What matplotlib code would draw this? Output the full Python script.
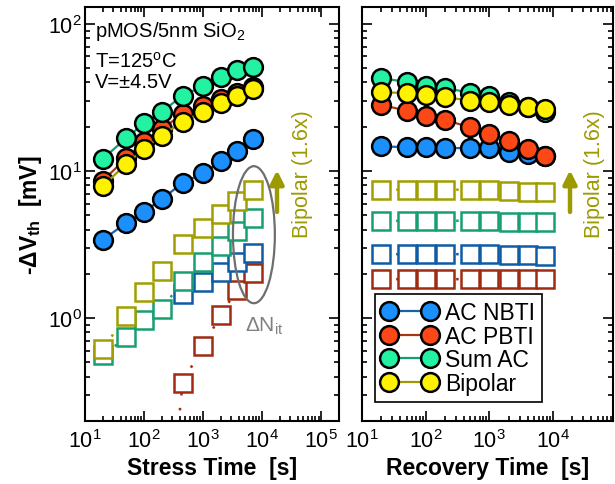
"""
pMOS / 5nm SiO2 : AC NBTI, AC PBTI, sum and bipolar stress + recovery.
"""

import numpy as np
import matplotlib
matplotlib.use("Agg")
import matplotlib.pyplot as plt
from matplotlib.lines import Line2D
from matplotlib.patches import Ellipse
from matplotlib.ticker import LogLocator, NullFormatter

plt.rcParams['font.family'] = ['Liberation Sans', 'DejaVu Sans']
plt.rcParams['mathtext.fontset'] = 'custom'
plt.rcParams['mathtext.rm'] = 'Liberation Sans'
plt.rcParams['mathtext.it'] = 'Liberation Sans:italic'
plt.rcParams['mathtext.bf'] = 'Liberation Sans:bold'
plt.rcParams['axes.linewidth'] = 1.5

# ---- data ----
stress_t = [20, 50, 100, 200, 450, 1000, 2000, 3700, 7000]
recov_t = [20, 50, 100, 200, 500, 1000, 2000, 4000, 7500]

# total dVth during stress [mV]
stress_nbti = [3.41, 4.43, 5.28, 6.45, 8.28, 9.68, 11.6, 13.7, 16.5]
stress_pbti = [8.6, 12.2, 15.8, 19.3, 24.4, 27.5, 30.9, 34.0, 37.2]
stress_sum = [12.1, 16.7, 21.1, 25.3, 32.5, 37.7, 43.4, 48.4, 50.7]
stress_bip = [7.87, 11.2, 14.1, 17.4, 21.6, 25.3, 29.0, 32.5, 36.1]

# interface trap part (dNit) during stress [mV]
nit_t_nbti = [450, 1000, 2000, 3700, 7000]
nit_nbti = [1.46, 1.77, 2.07, 2.39, 2.77]
nit_t_pbti = [200, 450, 1000, 2000, 3700, 7000]
nit_pbti = [0.014, 0.365, 0.648, 1.05, 1.56, 2.02]
nit_sum = [0.56, 0.74, 0.97, 1.15, 1.79, 2.42, 3.10, 3.93, 4.77]
nit_bip = [0.62, 1.03, 1.51, 2.10, 3.18, 4.07, 5.10, 6.28, 7.46]

# recovery [mV]
rec_nbti = [14.7, 14.5, 14.5, 14.3, 14.3, 14.3, 13.4, 13.1, 12.6]
rec_pbti = [28.1, 25.7, 23.5, 22.2, 19.8, 17.9, 16.1, 14.1, 12.7]
rec_sum = [42.8, 40.2, 38.0, 36.5, 34.1, 32.2, 29.5, 27.2, 25.3]
rec_bip = [34.3, 33.8, 32.9, 31.7, 30.1, 29.3, 28.2, 27.1, 26.4]

rec_nit_nbti = [2.72, 2.72, 2.72, 2.72, 2.72, 2.72, 2.68, 2.68, 2.65]
rec_nit_pbti = [1.84, 1.84, 1.84, 1.84, 1.84, 1.83, 1.84, 1.84, 1.84]
rec_nit_sum = [4.59, 4.59, 4.59, 4.59, 4.59, 4.59, 4.52, 4.52, 4.48]
rec_nit_bip = [7.46, 7.46, 7.46, 7.46, 7.46, 7.46, 7.35, 7.23, 7.23]

labels = ['AC NBTI', 'AC PBTI', 'Sum AC', 'Bipolar']

# colours: circle fill, line, square edge
fill = {'AC NBTI': '#1b8ffb', 'AC PBTI': '#fb4816', 'Sum AC': '#22f2a2', 'Bipolar': '#fff200'}
line = {'AC NBTI': '#1662ad', 'AC PBTI': '#a83519', 'Sum AC': '#12a072', 'Bipolar': '#9c9a00'}
edge = {'AC NBTI': '#0f5ba6', 'AC PBTI': '#a02a12', 'Sum AC': '#17a06f', 'Bipolar': '#a09e00'}
olive = '#9c9a00'

CIRC = dict(marker='o', ms=13.5, mew=1.8, mec='black', lw=1.6)
SQ = dict(marker='s', ms=12.3, mew=1.8, mfc='white', lw=1.8, ls=(0, (1, 5)))


def style_axis(ax, xmax):
    ax.set_xscale('log')
    ax.set_yscale('log')
    ax.set_xlim(10, xmax)
    ax.set_ylim(0.2, 130)
    for axis in (ax.xaxis, ax.yaxis):
        axis.set_major_locator(LogLocator(base=10, numticks=10))
        axis.set_minor_locator(LogLocator(base=10, subs=np.arange(2, 10), numticks=20))
        axis.set_minor_formatter(NullFormatter())
    ax.tick_params(which='both', direction='in', top=True, right=True, width=1.2)
    ax.tick_params(which='major', length=7, labelsize=15.5)
    ax.tick_params(which='minor', length=3.6)
    ax.tick_params(axis='x', which='major', pad=6)
    ax.tick_params(axis='y', which='major', pad=2)


fig = plt.figure(figsize=(6.15, 4.85), dpi=100)
ax1 = fig.add_axes([0.1382, 0.1299, 0.413, 0.8536])
ax2 = fig.add_axes([0.5886, 0.1299, 0.408, 0.8536])

# ---- stress panel ----
ax1.plot(nit_t_pbti, nit_pbti, color=edge['AC PBTI'], mec=edge['AC PBTI'], **SQ)
ax1.plot(nit_t_nbti, nit_nbti, color=edge['AC NBTI'], mec=edge['AC NBTI'], **SQ)
ax1.plot(stress_t, nit_sum, color=edge['Sum AC'], mec=edge['Sum AC'], **SQ)
ax1.plot(stress_t, nit_bip, color=edge['Bipolar'], mec=edge['Bipolar'], **SQ)

for lab, vals in zip(labels, [stress_nbti, stress_pbti, stress_sum, stress_bip]):
    ax1.plot(stress_t, vals, color=line[lab], mfc=fill[lab], **CIRC)

ax1.add_patch(Ellipse((0.665, 0.450), 0.165, 0.331, transform=ax1.transAxes,
                      fill=False, ec='#6e6e6e', lw=1.6, zorder=5))
ax1.text(0.628, 0.218, 'ΔN$_{\\rm it}$', transform=ax1.transAxes, fontsize=15,
         color='#808080', va='baseline')

ax1.text(0.04, 0.930, 'pMOS/5nm SiO$_2$', transform=ax1.transAxes, fontsize=14.5, va='baseline')
ax1.text(0.04, 0.857, 'T=125$^{\\rm o}$C', transform=ax1.transAxes, fontsize=14.5, va='baseline')
ax1.text(0.04, 0.807, 'V=±4.5V', transform=ax1.transAxes, fontsize=14.5, va='baseline')

ax1.set_xlabel('Stress Time  [s]', fontsize=16.5, fontweight='bold', labelpad=3)
ax1.set_ylabel('-ΔV$_{\\mathbf{th}}$  [mV]', fontsize=16.5, fontweight='bold', labelpad=3)
style_axis(ax1, 2e5)

# ---- recovery panel ----
ax2.plot(recov_t, rec_nit_pbti, color=edge['AC PBTI'], mec=edge['AC PBTI'], **SQ)
ax2.plot(recov_t, rec_nit_nbti, color=edge['AC NBTI'], mec=edge['AC NBTI'], **SQ)
ax2.plot(recov_t, rec_nit_sum, color=edge['Sum AC'], mec=edge['Sum AC'], **SQ)
ax2.plot(recov_t, rec_nit_bip, color=edge['Bipolar'], mec=edge['Bipolar'], **SQ)

for lab, vals in zip(labels, [rec_nbti, rec_pbti, rec_sum, rec_bip]):
    ax2.plot(recov_t, vals, color=line[lab], mfc=fill[lab], **CIRC)

ax2.set_xlabel('Recovery Time  [s]', fontsize=16.5, fontweight='bold', labelpad=3)
style_axis(ax2, 8.7e4)
ax2.tick_params(axis='y', labelleft=False)

# bipolar arrows + text
for ax, xa, xt in [(ax1, 0.756, 0.858), (ax2, 0.829, 0.928)]:
    ax.annotate('', xy=(xa, 0.606), xytext=(xa, 0.505), xycoords='axes fraction',
                arrowprops=dict(arrowstyle='-|>,head_length=0.8,head_width=0.4',
                                color=olive, lw=3.2, shrinkA=0, shrinkB=0))
    ax.text(xt, 0.598, 'Bipolar (1.6x)', transform=ax.transAxes, rotation=90,
            fontsize=15.5, color=olive, ha='center', va='center')

handles = [Line2D([], [], color=line[l], mfc=fill[l], **CIRC) for l in labels]
leg = ax2.legend(handles, labels, loc='lower left', bbox_to_anchor=(0.052, 0.046),
                 borderaxespad=0, numpoints=2, fontsize=16.5, handlelength=2.4,
                 handletextpad=0.35, labelspacing=0.03, borderpad=0.3,
                 fancybox=False, framealpha=1, edgecolor='black')
leg.get_frame().set_linewidth(1.2)

plt.savefig('out.png', dpi=100)
